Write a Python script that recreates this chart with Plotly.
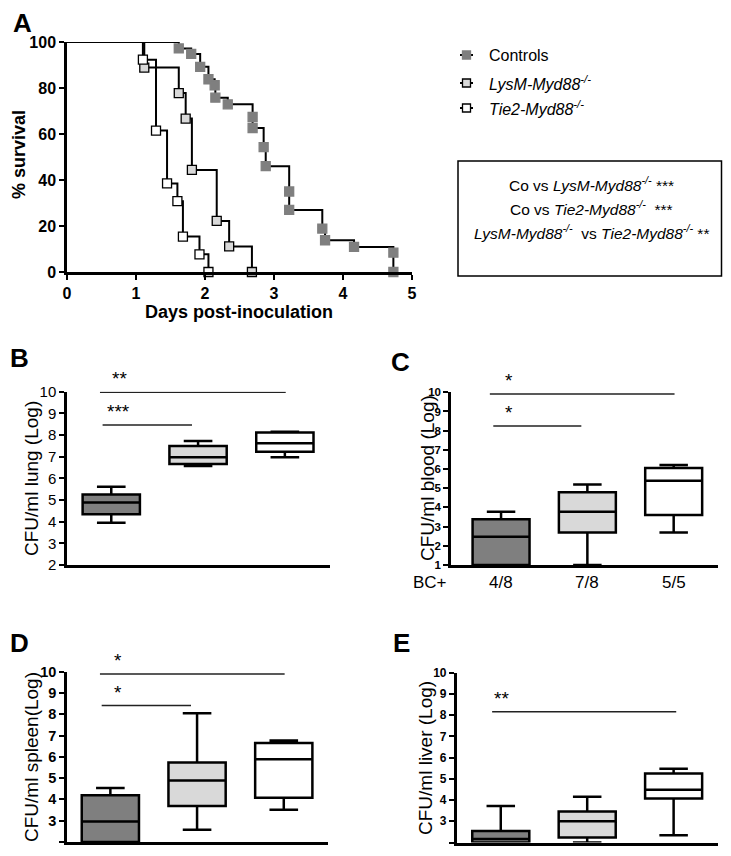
import plotly.graph_objects as go

# ---------------- DATA ----------------
# Panel A: Kaplan-Meier survival (days, % survival)
ctrl_t = [0, 1.62, 1.80, 1.93, 2.05, 2.14, 2.15, 2.33, 2.69, 2.69, 2.85, 2.88, 3.22, 3.22, 3.70, 3.74, 4.16, 4.73, 4.73]
ctrl_s = [100, 97.2, 94.8, 89.2, 83.8, 81.2, 75.8, 72.9, 67.4, 62.6, 54.3, 46.0, 35.0, 27.0, 18.9, 13.8, 10.9, 8.4, 0]
lysm_t = [0, 1.12, 1.62, 1.72, 1.81, 2.17, 2.35, 2.68]
lysm_s = [100, 88.9, 77.8, 66.7, 44.4, 22.2, 11.1, 0]
tie2_t = [0, 1.10, 1.29, 1.45, 1.60, 1.68, 1.92, 2.05]
tie2_s = [100, 92.3, 61.5, 38.5, 30.8, 15.4, 7.7, 0]
x_ticks_A = [0, 1, 2, 3, 4, 5]
y_ticks_A = [0, 20, 40, 60, 80, 100]

# Box panels: groups Controls, LysM, Tie2 -> [low, q1, median, q3, high]
groups = ["Controls", "LysM-Myd88-/-", "Tie2-Myd88-/-"]
lung = [[3.95, 4.34, 4.89, 5.26, 5.61], [6.57, 6.66, 6.97, 7.49, 7.72], [6.97, 7.23, 7.62, 8.12, 8.15]]
blood = [[1.0, 1.0, 2.47, 3.38, 3.78], [1.0, 2.70, 3.78, 4.79, 5.20], [2.70, 3.60, 5.39, 6.05, 6.21]]
spleen = [[2.0, 2.0, 2.96, 4.20, 4.54], [2.58, 3.69, 4.89, 5.74, 8.05], [3.51, 4.08, 5.89, 6.65, 6.77]]
liver = [[2.0, 2.0, 2.16, 2.54, 3.72], [2.0, 2.23, 3.00, 3.46, 4.15], [2.34, 4.07, 4.48, 5.25, 5.48]]
bc_pos = ["4/8", "7/8", "5/5"]
# significance brackets: (x_start, x_end, y_line, label, label_x)
sig_B = [(-0.13, 2.01, 9.97, "**", 0.09), (-0.10, 0.93, 8.46, "***", 0.08)]
sig_C = [(-0.13, 2.01, 9.91, "*", 0.09), (-0.09, 0.93, 8.24, "*", 0.09)]
sig_D = [(-0.12, 2.01, 9.89, "*", 0.09), (-0.10, 0.93, 8.41, "*", 0.09)]
sig_E = [(-0.10, 2.03, 8.16, "**", 0.01)]

# ---------------- STYLE ----------------
OFF = 8                      # page body margin
W, H = 731 - 2 * OFF, 856 - 2 * OFF
FONT = "Liberation Sans, Arial, sans-serif"
fills = ["#7f7f7f", "#d9d9d9", "#ffffff"]


def px_x(p):
    return (p - OFF) / W


def px_y(p):
    return 1 - (p - OFF) / H


fig = go.Figure()

# ---- Panel A ----
series = [
    (ctrl_t, ctrl_s, "#7f7f7f", "#7f7f7f"),
    (lysm_t, lysm_s, "#d9d9d9", "#000000"),
    (tie2_t, tie2_s, "#ffffff", "#000000"),
]
for t, s, fc, lc in series:
    fig.add_trace(go.Scatter(x=t, y=s, mode="lines", line=dict(color="black", width=2, shape="hv"),
                             xaxis="x", yaxis="y", showlegend=False, cliponaxis=False, hoverinfo="skip"))
for t, s, fc, lc in series:
    fig.add_trace(go.Scatter(x=t[1:], y=s[1:], mode="markers",
                             marker=dict(symbol="square", size=9, color=fc, line=dict(color=lc, width=1.3)),
                             xaxis="x", yaxis="y", showlegend=False, cliponaxis=False))

axis_common = dict(showline=True, linecolor="black", linewidth=2.5, ticks="outside", tickwidth=2,
                   ticklen=5, tickcolor="black", showgrid=False, zeroline=False, automargin=False)

layout = dict(
    width=W, height=H, margin=dict(l=0, r=0, t=0, b=0, pad=0), autosize=False,
    paper_bgcolor="white", plot_bgcolor="white", showlegend=False,
    font=dict(family=FONT, color="black"),
    xaxis=dict(domain=[px_x(67), px_x(412)], range=[0, 5], tickvals=x_ticks_A, anchor="y",
               tickfont=dict(size=16, family=FONT, weight="bold"), **axis_common),
    yaxis=dict(domain=[px_y(272), px_y(42)], range=[0, 100], tickvals=y_ticks_A, anchor="x",
               tickfont=dict(size=16, family=FONT, weight="bold"), **axis_common),
    boxmode="overlay",
)

# Box panels config
panels = [
    (lung, "x2", "y2", (67, 330), (565, 391.7), [-0.51, 2.52], [2, 10], 15, False, sig_B),
    (blood, "x3", "y3", (451, 717.7), (565, 392.3), [-0.58, 2.51], [1, 10], 11.5, True, sig_C),
    (spleen, "x4", "y4", (67, 328), (842, 671.7), [-0.50, 2.51], [2, 10], 14.5, True, sig_D),
    (liver, "x5", "y5", (456.7, 717.7), (842.5, 672.7), [-0.51, 2.51], [2, 10], 12, True, sig_E),
]

annotations = []
shapes = []
for data, xa, ya, xd, yd, xr, yr, tsize, tbold, sig in panels:
    for i, st in enumerate(data):
        fig.add_trace(go.Box(x=[i], lowerfence=[st[0]], q1=[st[1]], median=[st[2]], q3=[st[3]],
                             upperfence=[st[4]], width=0.66, whiskerwidth=0.5, fillcolor=fills[i],
                             line=dict(color="black", width=2.5), xaxis=xa, yaxis=ya,
                             showlegend=False, boxpoints=False, name=groups[i]))
    yticks = list(range(int(yr[0]), int(yr[1]) + 1))
    tfont = dict(size=tsize, family=FONT, weight="bold" if tbold else "normal")
    layout["xaxis" + xa[1:]] = dict(domain=[px_x(xd[0]), px_x(xd[1])], range=xr, anchor=ya,
                                    showline=True, linecolor="black", linewidth=2.5, ticks="",
                                    showticklabels=False, showgrid=False, zeroline=False, automargin=False)
    layout["yaxis" + ya[1:]] = dict(domain=[px_y(yd[0]), px_y(yd[1])], range=yr, anchor=xa,
                                    tickvals=yticks, tickfont=tfont, **axis_common)
    for (x0, x1, yl, lab, lx) in sig:
        shapes.append(dict(type="line", xref=xa, yref=ya, x0=x0, x1=x1, y0=yl, y1=yl,
                           line=dict(color="#222222", width=1.5)))
        annotations.append(dict(xref=xa, yref=ya, x=lx, y=yl, text=lab, showarrow=False,
                                yanchor="bottom", yshift=1, font=dict(size=19, family=FONT)))

# Axis titles
titles = [
    ("% survival", 19, 155, 18, True),
    ("CFU/ml lung (Log)", 31, 479, 19, False),
    ("CFU/ml blood (Log)", 427, 478, 19, False),
    ("CFU/ml spleen(Log)", 31, 757, 19, False),
    ("CFU/ml liver (Log)", 425, 758, 19, False),
]
for txt, xp, yp, sz, b in titles:
    annotations.append(dict(xref="paper", yref="paper", x=px_x(xp), y=px_y(yp), text=txt, textangle=-90,
                            showarrow=False, xanchor="center", yanchor="middle",
                            font=dict(size=sz, family=FONT, weight="bold" if b else "normal")))
annotations.append(dict(xref="paper", yref="paper", x=px_x(239), y=px_y(312), text="Days post-inoculation",
                        showarrow=False, xanchor="center", yanchor="middle",
                        font=dict(size=18, family=FONT, weight="bold")))

# Panel letters
for L, xp, yp in [("A", 22, 23), ("B", 19, 358), ("C", 400, 362), ("D", 19, 643), ("E", 401, 643)]:
    annotations.append(dict(xref="paper", yref="paper", x=px_x(xp), y=px_y(yp), text=L, showarrow=False,
                            xanchor="center", yanchor="middle", font=dict(size=26, family=FONT, weight="bold")))

# BC+ row
annotations.append(dict(xref="paper", yref="paper", x=px_x(430), y=px_y(582), text="BC+", showarrow=False,
                        xanchor="center", yanchor="middle", font=dict(size=17, family=FONT)))
for i, lab in enumerate(bc_pos):
    annotations.append(dict(xref="x3", yref="paper", x=i, y=px_y(582), text=lab, showarrow=False,
                            xanchor="center", yanchor="middle", font=dict(size=17, family=FONT)))

# Legend (manual)
leg = [("Controls", "#7f7f7f", "#7f7f7f", 55),
       ("<i>LysM-Myd88</i><sup><i>-/-</i></sup>", "#d9d9d9", "#000000", 83),
       ("<i>Tie2-Myd88</i><sup><i>-/-</i></sup>", "#ffffff", "#000000", 108)]
for txt, fc, lc, yp in leg:
    shapes.append(dict(type="line", xref="paper", yref="paper", x0=px_x(460), x1=px_x(473),
                       y0=px_y(yp), y1=px_y(yp), line=dict(color="black", width=2)))
    shapes.append(dict(type="rect", xref="paper", yref="paper", x0=px_x(462.5), x1=px_x(470.5),
                       y0=px_y(yp + 4), y1=px_y(yp - 4), fillcolor=fc, line=dict(color=lc, width=1.3)))
    annotations.append(dict(xref="paper", yref="paper", x=px_x(487), y=px_y(yp), text=txt, showarrow=False,
                            xanchor="left", yanchor="middle", font=dict(size=16, family=FONT)))

# Stats box
shapes.append(dict(type="rect", xref="paper", yref="paper", x0=px_x(458), x1=px_x(721.5),
                   y0=px_y(276), y1=px_y(161), line=dict(color="black", width=1.5)))
stats = ["Co vs <i>LysM-Myd88</i><sup><i>-/-</i></sup> ***",
         "Co vs <i>Tie2-Myd88</i><sup><i>-/-</i></sup>  ***",
         "<i>LysM-Myd88</i><sup><i>-/-</i></sup>  vs <i>Tie2-Myd88</i><sup><i>-/-</i></sup> **"]
for txt, yp in zip(stats, [184, 208, 232]):
    annotations.append(dict(xref="paper", yref="paper", x=px_x(591), y=px_y(yp), text=txt, showarrow=False,
                            xanchor="center", yanchor="middle", font=dict(size=15.5, family=FONT)))

layout["annotations"] = annotations
layout["shapes"] = shapes
fig.update_layout(**layout)
fig.write_html("out.html")
